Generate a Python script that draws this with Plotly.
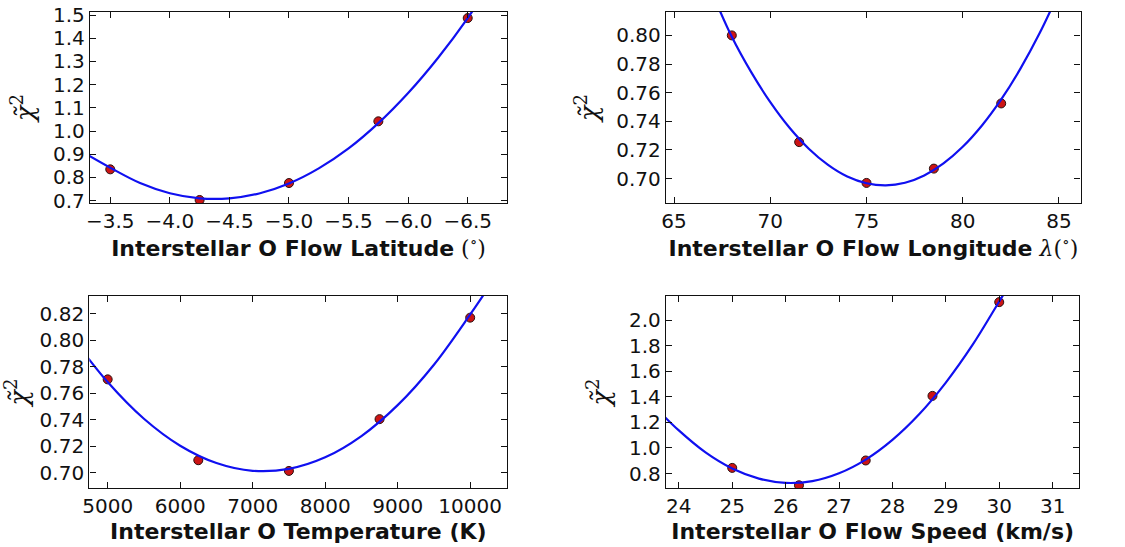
import plotly.graph_objects as go

# ---- measured chi-square values ----
lat_x = [-3.5, -4.25, -5.0, -5.75, -6.5]
lat_chi = [0.835, 0.703, 0.776, 1.042, 1.487]
lat_fit_x = [-3.2, -3.5, -3.75, -4.0, -4.25, -4.5, -4.75, -5.0, -5.25, -5.5, -5.75, -6.0, -6.25, -6.5, -6.6]
lat_fit_chi = [0.930, 0.842, 0.776, 0.732, 0.710, 0.710, 0.731, 0.774, 0.839, 0.925, 1.034, 1.164, 1.315, 1.487, 1.565]

lon_x = [68, 71.5, 75, 78.5, 82]
lon_chi = [0.800, 0.7255, 0.697, 0.707, 0.7525]
lon_fit_x = [67.0, 68, 69, 70, 71, 72, 73, 74, 75, 76, 77, 78, 79, 80, 81, 82, 83, 84, 85.0]
lon_fit_chi = [0.8290, 0.799, 0.7745, 0.7534, 0.7355, 0.7209, 0.7096, 0.7015, 0.6968, 0.6953,
               0.6971, 0.7022, 0.7106, 0.7222, 0.7371, 0.7553, 0.7768, 0.8016, 0.8300]

temp_x = [5000, 6250, 7500, 8750, 10000]
temp_chi = [0.7705, 0.7093, 0.7012, 0.7404, 0.8172]
temp_fit_x = [4600, 5000, 5500, 6000, 6500, 7000, 7500, 8000, 8500, 9000, 9500, 10000, 10300]
temp_fit_chi = [0.7960, 0.7685, 0.7407, 0.7203, 0.7072, 0.7013, 0.7028, 0.7115, 0.7276, 0.7510,
                0.7816, 0.8196, 0.8440]

speed_x = [25, 26.25, 27.5, 28.75, 30]
speed_chi = [0.844, 0.708, 0.902, 1.407, 2.140]
speed_fit_x = [23.6, 24, 24.5, 25, 25.5, 26, 26.5, 27, 27.5, 28, 28.5, 29, 29.5, 30, 30.3]
speed_fit_chi = [1.300, 1.137, 0.965, 0.839, 0.760, 0.727, 0.741, 0.802, 0.909, 1.063, 1.263,
                 1.511, 1.805, 2.145, 2.350]

lat_ticks = [-3.5, -4.0, -4.5, -5.0, -5.5, -6.0, -6.5]
lat_chi_ticks = [0.7, 0.8, 0.9, 1.0, 1.1, 1.2, 1.3, 1.4, 1.5]
lon_ticks = [65, 70, 75, 80, 85]
lon_chi_ticks = [0.70, 0.72, 0.74, 0.76, 0.78, 0.80]
temp_ticks = [5000, 6000, 7000, 8000, 9000, 10000]
temp_chi_ticks = [0.70, 0.72, 0.74, 0.76, 0.78, 0.80, 0.82]
speed_ticks = [24, 25, 26, 27, 28, 29, 30, 31]
speed_chi_ticks = [0.8, 1.0, 1.2, 1.4, 1.6, 1.8, 2.0]

LINE_BLUE = "#1010f0"
DOT_RED = "#cc1414"
TICK_FONT = dict(family="DejaVu Sans", size=20, color="#111111")
TITLE_FONT = dict(family="DejaVu Sans", size=22, color="#111111")
YTITLE = "<span style='font-family:DejaVu Serif'><i>χ̃</i><sup>2</sup></span>"

panels = [
    dict(fx=lat_fit_x, fy=lat_fit_chi, px=lat_x, py=lat_chi,
         xr=[-3.33, -6.83], yr=[0.69, 1.513], xt=lat_ticks, yt=lat_chi_ticks, xf=".1f", yf=".1f",
         xdom=[0.08, 0.4507], ydom=[0.6289, 0.978],
         title="<b>Interstellar O Flow Latitude</b> <span style='font-family:DejaVu Serif'>(<sup>∘</sup>)</span>"),
    dict(fx=lon_fit_x, fy=lon_fit_chi, px=lon_x, py=lon_chi,
         xr=[64.58, 86.13], yr=[0.683, 0.8163], xt=lon_ticks, yt=lon_chi_ticks, xf="d", yf=".2f",
         xdom=[0.592, 0.9606], ydom=[0.6289, 0.978],
         title="<b>Interstellar O Flow Longitude</b> <span style='font-family:DejaVu Serif'><i>λ</i>(<sup>∘</sup>)</span>"),
    dict(fx=temp_fit_x, fy=temp_fit_chi, px=temp_x, py=temp_chi,
         xr=[4747, 10513], yr=[0.6883, 0.8336], xt=temp_ticks, yt=temp_chi_ticks, xf="d", yf=".2f",
         xdom=[0.0794, 0.451], ydom=[0.1079, 0.4589],
         title="<b>Interstellar O Temperature (K)</b>"),
    dict(fx=speed_fit_x, fy=speed_fit_chi, px=speed_x, py=speed_chi,
         xr=[23.76, 31.5], yr=[0.687, 2.188], xt=speed_ticks, yt=speed_chi_ticks, xf="d", yf=".1f",
         xdom=[0.592, 0.9594], ydom=[0.1079, 0.4589],
         title="<b>Interstellar O Flow Speed (km/s)</b>"),
]

fig = go.Figure()
layout = dict(
    width=1125, height=547,
    margin=dict(l=0, r=0, t=0, b=0, autoexpand=False),
    paper_bgcolor="white", plot_bgcolor="white",
    showlegend=False,
)

for i, p in enumerate(panels, start=1):
    sfx = "" if i == 1 else str(i)
    # measured points first, fitted curve drawn over them
    fig.add_trace(go.Scatter(
        x=p["px"], y=p["py"], mode="markers",
        marker=dict(color=DOT_RED, size=9, line=dict(color="#2a1010", width=1)),
        xaxis="x" + sfx, yaxis="y" + sfx,
    ))
    fig.add_trace(go.Scatter(
        x=p["fx"], y=p["fy"], mode="lines", line=dict(color=LINE_BLUE, width=2.2, shape="spline", smoothing=1.0),
        xaxis="x" + sfx, yaxis="y" + sfx, hoverinfo="skip",
    ))
    common = dict(showgrid=False, zeroline=False, showline=True, linecolor="#111111", linewidth=1.4,
                  mirror="allticks", ticks="inside", ticklen=6, tickwidth=1, tickcolor="#111111",
                  tickfont=TICK_FONT, automargin=False)
    layout["xaxis" + sfx] = dict(
        common, domain=p["xdom"], range=p["xr"], anchor="y" + sfx,
        tickmode="array", tickvals=p["xt"], tickformat=p["xf"],
        title=dict(text=p["title"], font=TITLE_FONT, standoff=6),
    )
    layout["yaxis" + sfx] = dict(
        common, domain=p["ydom"], range=p["yr"], anchor="x" + sfx,
        tickmode="array", tickvals=p["yt"], tickformat=p["yf"],
        title=dict(text=YTITLE, font=dict(family="DejaVu Serif", size=26, color="#111111"), standoff=10),
    )

fig.update_layout(**layout)
fig.write_html("out.html")
